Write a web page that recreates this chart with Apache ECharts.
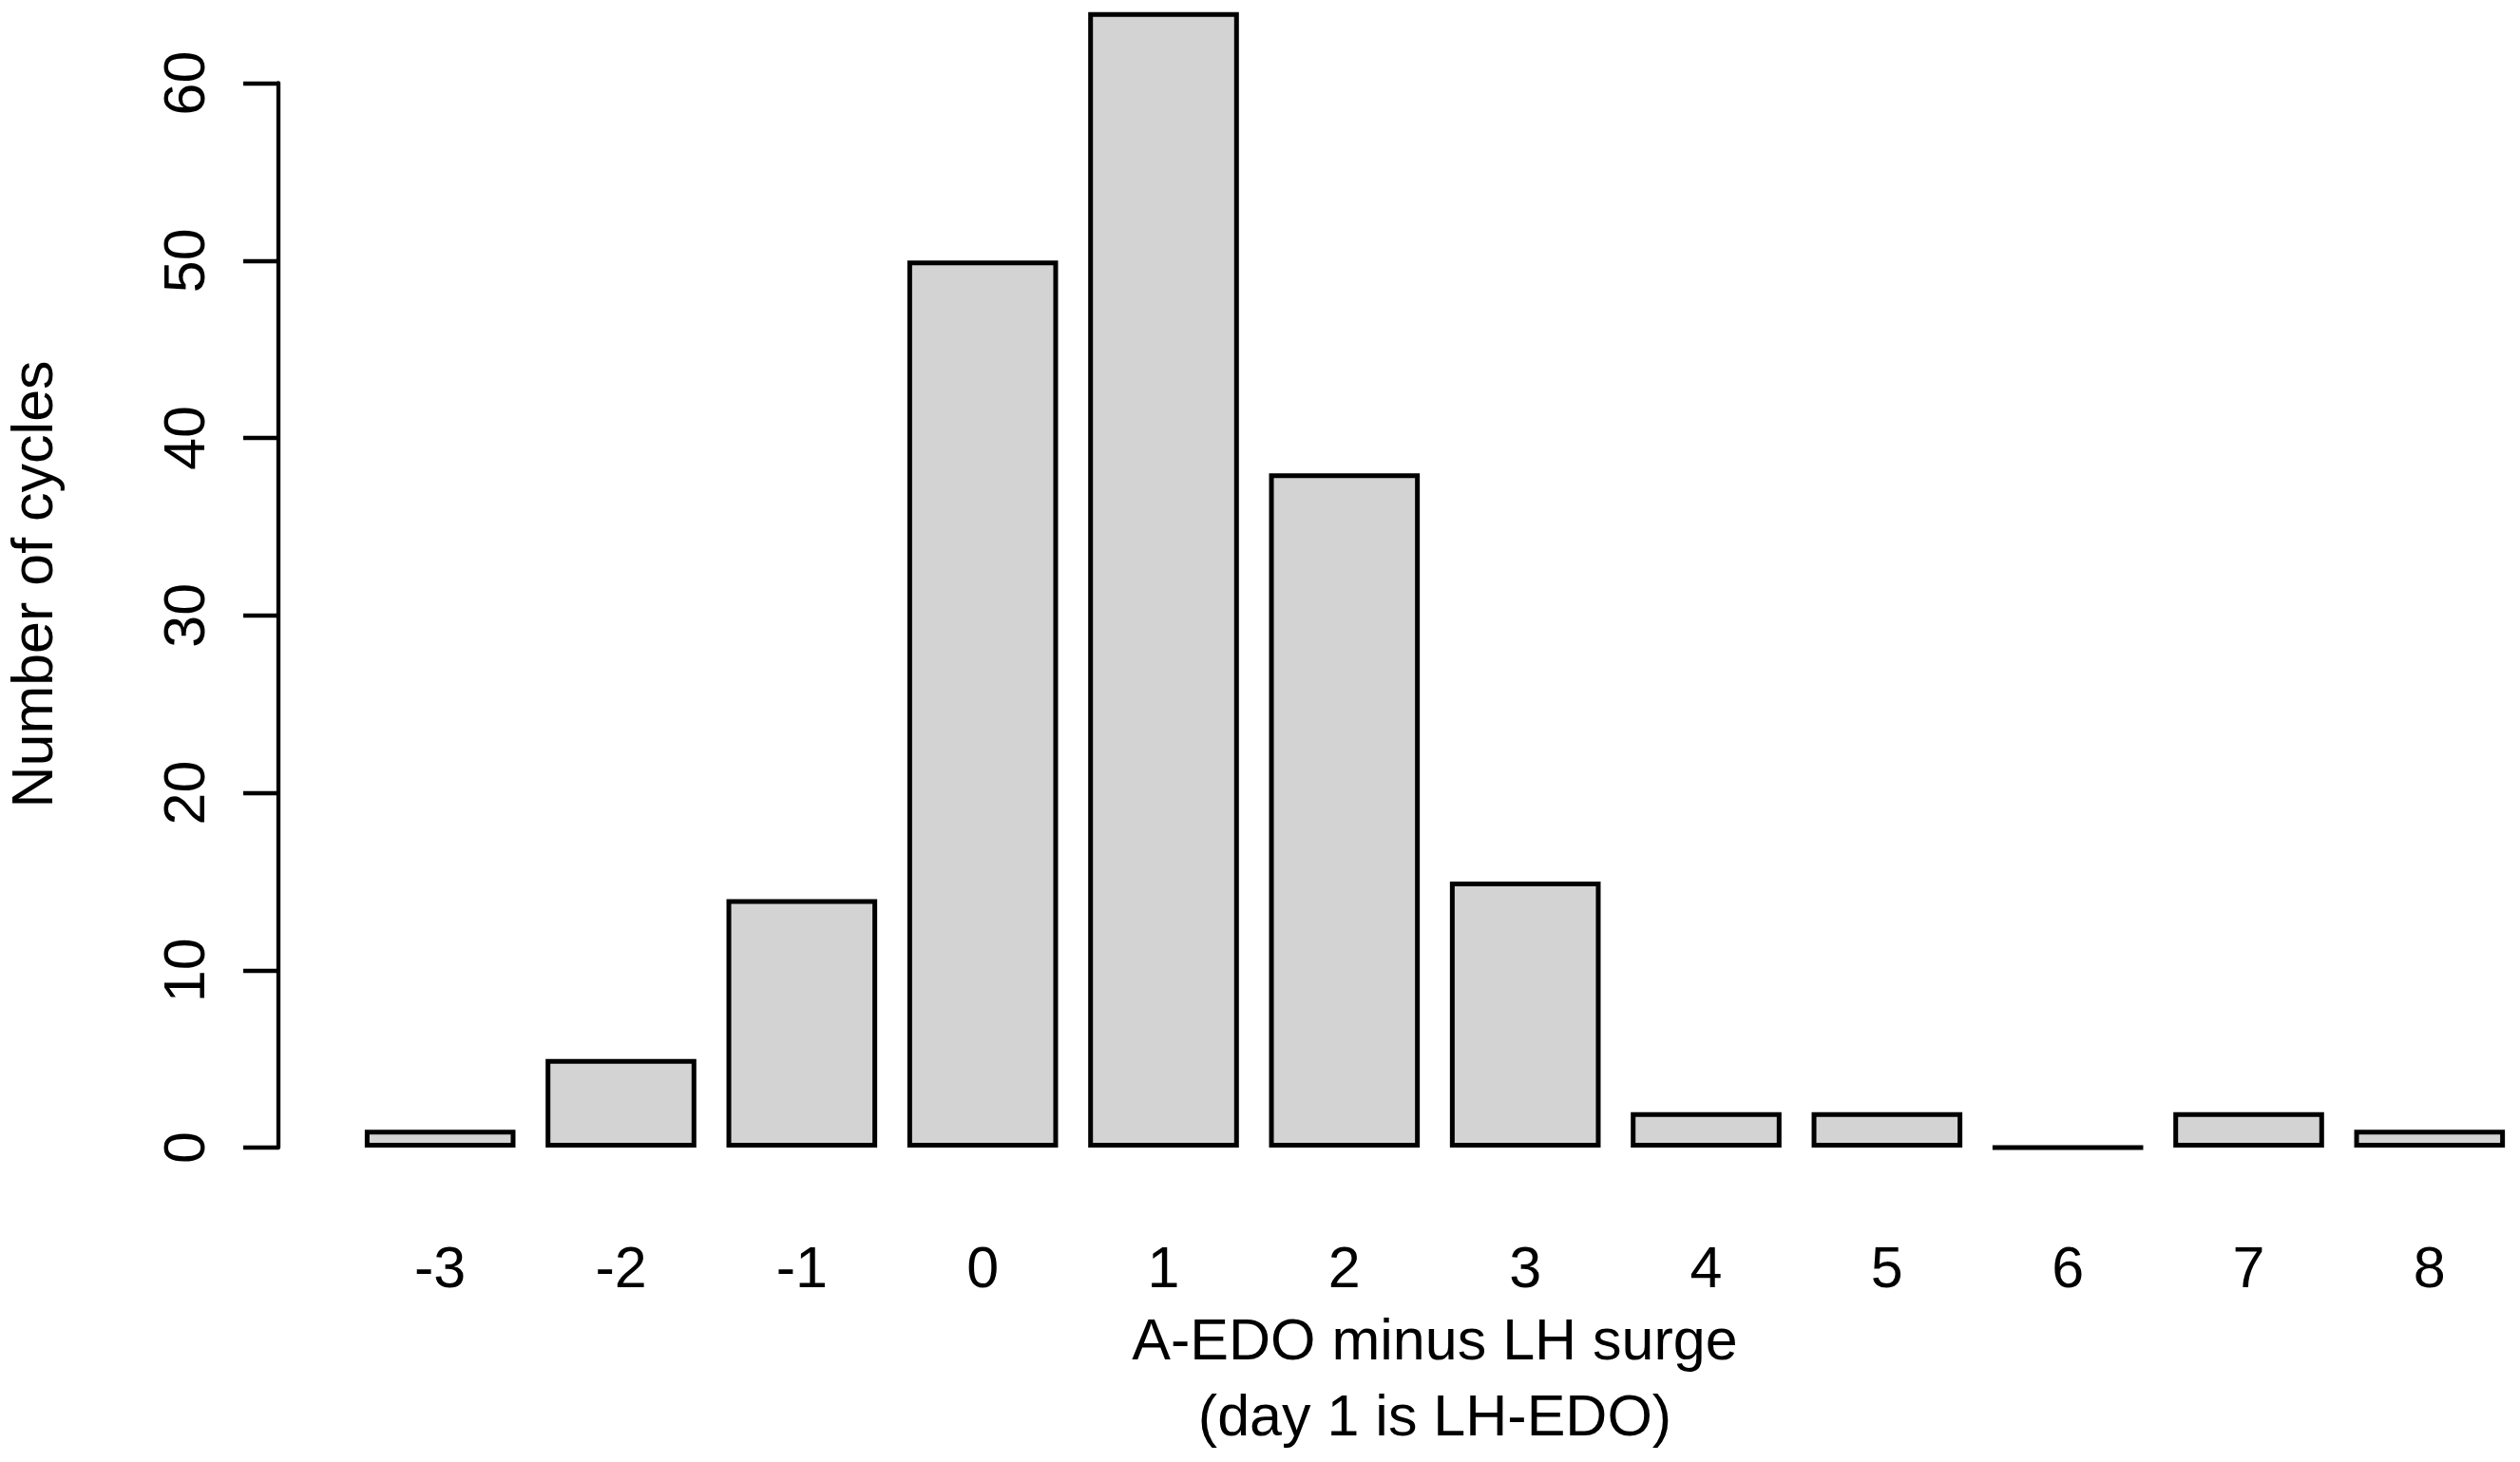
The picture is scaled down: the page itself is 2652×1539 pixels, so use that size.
<!DOCTYPE html>
<html>
<head>
<meta charset="utf-8">
<script src="https://cdn.jsdelivr.net/npm/echarts@6/dist/echarts.min.js"></script>
<style>
html,body{margin:0;padding:0;background:#fff;}
#chart{width:2652px;height:1539px;}
</style>
</head>
<body>
<div id="chart"></div>
<script>
const categories = ['-3','-2','-1','0','1','2','3','4','5','6','7','8'];
const cycles = [1, 5, 14, 50, 64, 38, 15, 2, 2, 0, 2, 1];
const yTicks = [0, 10, 20, 30, 40, 50, 60];
const xTitle = 'A-EDO minus LH surge\n(day 1 is LH-EDO)';
const yTitle = 'Number of cycles';

const FONT = '"Liberation Sans", Arial, Helvetica, sans-serif';
const chart = echarts.init(document.getElementById('chart'), null, {renderer: 'canvas'});
chart.setOption({
  animation: false,
  backgroundColor: '#ffffff',
  grid: {left: 368, top: 87.5, width: 2289.3, bottom: 326, containLabel: false},
  xAxis: {
    type: 'category',
    data: categories,
    axisLine: {show: false},
    axisTick: {show: false},
    axisLabel: {fontSize: 61, fontFamily: FONT, color: '#000', margin: 100},
    name: xTitle,
    nameLocation: 'middle',
    nameGap: 166,
    nameTextStyle: {fontSize: 61, fontFamily: FONT, color: '#000', lineHeight: 80}
  },
  yAxis: {
    type: 'value',
    min: yTicks[0],
    max: yTicks[yTicks.length - 1],
    interval: 10,
    offset: 75,
    splitLine: {show: false},
    axisLine: {show: true, lineStyle: {color: '#000', width: 4.3}},
    axisTick: {show: true, length: 37, lineStyle: {color: '#000', width: 4.3}},
    axisLabel: {rotate: 90, fontSize: 61, fontFamily: FONT, color: '#000', margin: 64}
  },
  graphic: [{
    type: 'text',
    x: 38, y: 615,
    rotation: Math.PI / 2,
    style: {text: yTitle, font: '61px ' + FONT, fill: '#000', align: 'center', verticalAlign: 'middle'}
  }],
  series: [{
    type: 'bar',
    data: cycles,
    barCategoryGap: '16.67%',
    clip: false,
    itemStyle: {color: '#d3d3d3', borderColor: '#000', borderWidth: 5}
  }]
});
</script>
</body>
</html>
